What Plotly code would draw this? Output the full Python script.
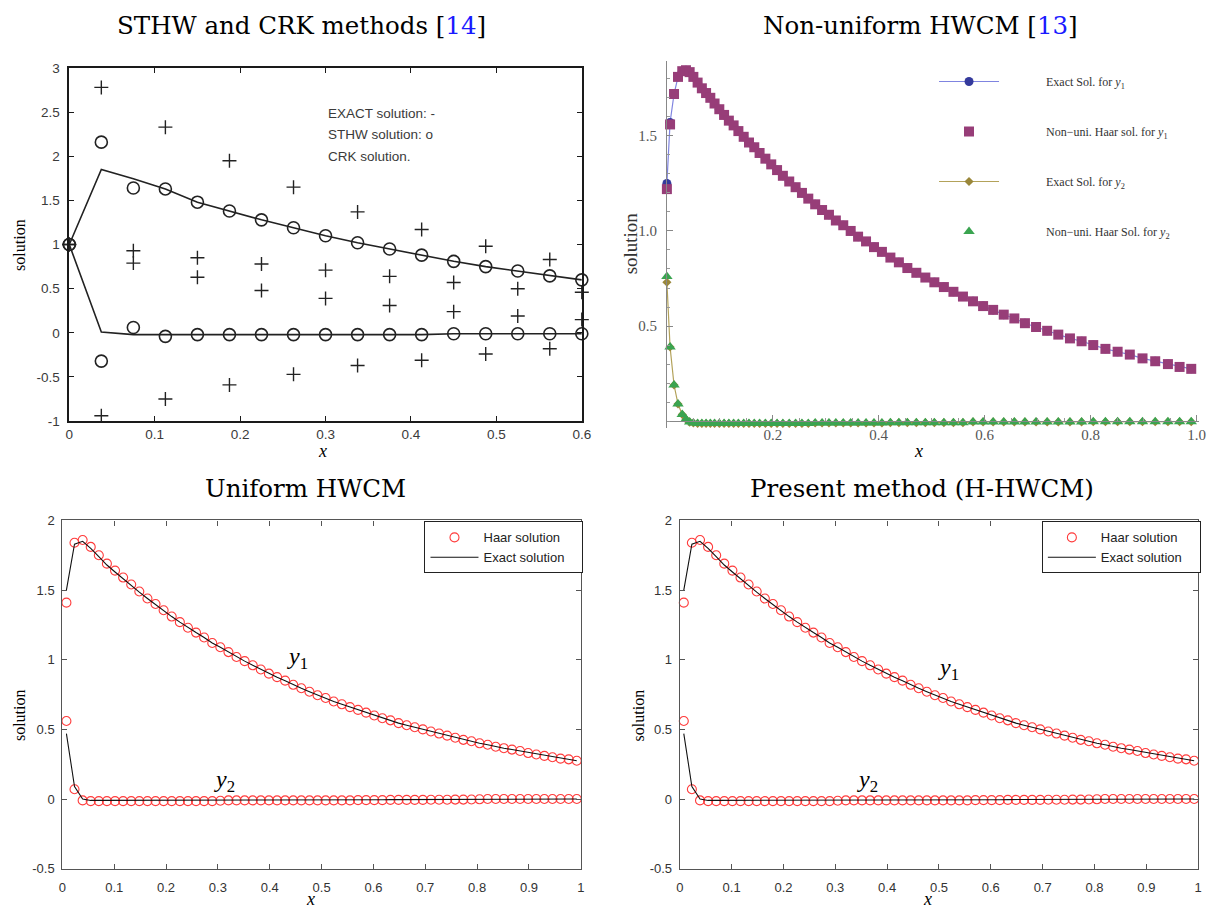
import plotly.graph_objects as go

W, H = 1225, 917

# ---------------- Panel 1 data (STHW and CRK methods) ----------------
p1_x = [0, 0.0375, 0.075, 0.1125, 0.15, 0.1875, 0.225, 0.2625, 0.3, 0.3375,
        0.375, 0.4125, 0.45, 0.4875, 0.525, 0.5625, 0.6]
p1_exact_y1 = [1.0, 1.85, 1.745, 1.63, 1.48, 1.38, 1.28, 1.19, 1.10, 1.02,
               0.95, 0.88, 0.81, 0.75, 0.70, 0.645, 0.60]
p1_exact_y2 = [1.0, 0.01, -0.02, -0.02, -0.02, -0.02, -0.02, -0.02, -0.02, -0.02,
               -0.02, -0.02, -0.01, -0.01, -0.01, -0.01, -0.01]
p1_sthw_y1 = [1.0, 2.16, 1.64, 1.63, 1.48, 1.38, 1.28, 1.19, 1.10, 1.02,
              0.95, 0.88, 0.81, 0.75, 0.70, 0.645, 0.60]
p1_sthw_y2 = [1.0, -0.32, 0.06, -0.04, -0.02, -0.02, -0.02, -0.02, -0.02, -0.02,
              -0.02, -0.02, -0.01, -0.01, -0.01, -0.01, -0.01]
p1_crk_a = [1.0, 2.78, 0.93, 2.33, 0.85, 1.95, 0.78, 1.65, 0.71, 1.37,
            0.64, 1.17, 0.57, 0.98, 0.50, 0.83, 0.46]
p1_crk_b = [1.0, -0.94, 0.79, -0.75, 0.63, -0.59, 0.48, -0.47, 0.39, -0.37,
            0.31, -0.31, 0.24, -0.24, 0.19, -0.18, 0.15]
p1_xticks = [0, 0.1, 0.2, 0.3, 0.4, 0.5, 0.6]
p1_xtext = ["0", "0.1", "0.2", "0.3", "0.4", "0.5", "0.6"]
p1_yticks = [-1, -0.5, 0, 0.5, 1, 1.5, 2, 2.5, 3]
p1_ytext = ["-1", "-0.5", "0", "0.5", "1", "1.5", "2", "2.5", "3"]

# ---------------- Panel 2 data (Non-uniform HWCM) ----------------
p2_x = [0, 0.006, 0.0135, 0.021, 0.029, 0.036, 0.043, 0.050, 0.058, 0.066,
        0.074, 0.082, 0.090, 0.099, 0.108, 0.117, 0.126, 0.135, 0.145, 0.155,
        0.165, 0.175, 0.186, 0.197, 0.208, 0.219, 0.231, 0.243, 0.255, 0.267,
        0.280, 0.293, 0.306, 0.319, 0.333, 0.347, 0.361, 0.376, 0.391, 0.406,
        0.422, 0.438, 0.454, 0.471, 0.488, 0.505, 0.523, 0.541, 0.559, 0.578,
        0.597, 0.616, 0.636, 0.656, 0.676, 0.697, 0.718, 0.739, 0.761, 0.783,
        0.805, 0.828, 0.851, 0.874, 0.898, 0.922, 0.946, 0.968, 0.990]
p2_exact_y1 = [1.25, 1.57, 1.72, 1.81, 1.84, 1.845, 1.835, 1.81, 1.78, 1.75,
               1.725, 1.70, 1.67, 1.64, 1.61, 1.58, 1.555, 1.525, 1.495, 1.465,
               1.44, 1.41, 1.38, 1.35, 1.32, 1.29, 1.26, 1.23, 1.20, 1.17,
               1.14, 1.11, 1.085, 1.055, 1.03, 1.00, 0.97, 0.945, 0.915, 0.89,
               0.86, 0.835, 0.805, 0.78, 0.755, 0.73, 0.705, 0.68, 0.655, 0.63,
               0.605, 0.585, 0.56, 0.54, 0.515, 0.495, 0.475, 0.455, 0.435, 0.42,
               0.40, 0.38, 0.365, 0.35, 0.33, 0.315, 0.30, 0.285, 0.275]
p2_haar_y1 = [1.22, 1.56, 1.72, 1.81, 1.84, 1.845, 1.835, 1.81, 1.78, 1.75,
              1.725, 1.70, 1.67, 1.64, 1.61, 1.58, 1.555, 1.525, 1.495, 1.465,
              1.44, 1.41, 1.38, 1.35, 1.32, 1.29, 1.26, 1.23, 1.20, 1.17,
              1.14, 1.11, 1.085, 1.055, 1.03, 1.00, 0.97, 0.945, 0.915, 0.89,
              0.86, 0.835, 0.805, 0.78, 0.755, 0.73, 0.705, 0.68, 0.655, 0.63,
              0.605, 0.585, 0.56, 0.54, 0.515, 0.495, 0.475, 0.455, 0.435, 0.42,
              0.40, 0.38, 0.365, 0.35, 0.33, 0.315, 0.30, 0.285, 0.275]
p2_exact_y2 = [0.73, 0.39, 0.19, 0.09, 0.035, 0.01, -0.005, -0.01, -0.012, -0.012,
               -0.012, -0.012, -0.012, -0.012, -0.012, -0.012, -0.012, -0.012, -0.012, -0.012,
               -0.012, -0.012, -0.012, -0.012, -0.012, -0.012, -0.012, -0.012, -0.012, -0.012,
               -0.01, -0.01, -0.01, -0.01, -0.01, -0.01, -0.01, -0.01, -0.01, -0.01,
               -0.008, -0.008, -0.008, -0.008, -0.008, -0.008, -0.008, -0.008, -0.008, -0.004,
               -0.004, -0.004, -0.004, -0.004, -0.004, -0.004, -0.004, -0.004, -0.004, -0.004,
               -0.003, -0.003, -0.003, -0.003, -0.003, -0.003, -0.003, -0.003, -0.003]
p2_haar_y2 = [0.76, 0.39, 0.19, 0.09, 0.035, 0.01, -0.005, -0.01, -0.012, -0.012,
              -0.012, -0.012, -0.012, -0.012, -0.012, -0.012, -0.012, -0.012, -0.012, -0.012,
              -0.012, -0.012, -0.012, -0.012, -0.012, -0.012, -0.012, -0.012, -0.012, -0.012,
              -0.01, -0.01, -0.01, -0.01, -0.01, -0.01, -0.01, -0.01, -0.01, -0.01,
              -0.008, -0.008, -0.008, -0.008, -0.008, -0.008, -0.008, -0.008, -0.008, -0.004,
              -0.004, -0.004, -0.004, -0.004, -0.004, -0.004, -0.004, -0.004, -0.004, -0.004,
              -0.003, -0.003, -0.003, -0.003, -0.003, -0.003, -0.003, -0.003, -0.003]
p2_xticks = [0.2, 0.4, 0.6, 0.8, 1.0]
p2_xtext = ["0.2", "0.4", "0.6", "0.8", "1.0"]
p2_yticks = [0.5, 1.0, 1.5]
p2_ytext = ["0.5", "1.0", "1.5"]

# ---------------- Panels 3 & 4 data (Uniform HWCM / H-HWCM) ----------------
p3_x = [0.0078, 0.0234, 0.0391, 0.0547, 0.0703, 0.0859, 0.1016, 0.1172, 0.1328, 0.1484,
        0.1641, 0.1797, 0.1953, 0.2109, 0.2266, 0.2422, 0.2578, 0.2734, 0.2891, 0.3047,
        0.3203, 0.3359, 0.3516, 0.3672, 0.3828, 0.3984, 0.4141, 0.4297, 0.4453, 0.4609,
        0.4766, 0.4922, 0.5078, 0.5234, 0.5391, 0.5547, 0.5703, 0.5859, 0.6016, 0.6172,
        0.6328, 0.6484, 0.6641, 0.6797, 0.6953, 0.7109, 0.7266, 0.7422, 0.7578, 0.7734,
        0.7891, 0.8047, 0.8203, 0.8359, 0.8516, 0.8672, 0.8828, 0.8984, 0.9141, 0.9297,
        0.9453, 0.9609, 0.9766, 0.9922]
p3_haar_y1 = [1.41, 1.84, 1.86, 1.81, 1.75, 1.69, 1.64, 1.59, 1.54, 1.49,
              1.44, 1.40, 1.355, 1.31, 1.27, 1.23, 1.195, 1.16, 1.12, 1.09,
              1.055, 1.02, 0.99, 0.96, 0.93, 0.90, 0.875, 0.85, 0.82, 0.795,
              0.77, 0.745, 0.725, 0.70, 0.68, 0.66, 0.64, 0.62, 0.60, 0.58,
              0.565, 0.545, 0.53, 0.515, 0.50, 0.485, 0.47, 0.455, 0.44, 0.425,
              0.415, 0.40, 0.39, 0.375, 0.365, 0.355, 0.345, 0.33, 0.32, 0.31,
              0.30, 0.29, 0.285, 0.275]
p3_exact_y1 = [1.50, 1.83, 1.85, 1.80, 1.74, 1.68, 1.63, 1.58, 1.53, 1.485,
               1.44, 1.395, 1.35, 1.31, 1.27, 1.23, 1.195, 1.16, 1.12, 1.09,
               1.055, 1.02, 0.99, 0.96, 0.93, 0.90, 0.875, 0.85, 0.82, 0.795,
               0.77, 0.745, 0.725, 0.70, 0.68, 0.66, 0.64, 0.62, 0.60, 0.58,
               0.565, 0.545, 0.53, 0.515, 0.50, 0.485, 0.47, 0.455, 0.44, 0.425,
               0.415, 0.40, 0.39, 0.375, 0.365, 0.355, 0.345, 0.33, 0.32, 0.31,
               0.30, 0.29, 0.285, 0.275]
p3_haar_y2 = [0.56, 0.07, -0.01, -0.015, -0.015, -0.015, -0.015, -0.015, -0.015, -0.015,
              -0.015, -0.015, -0.015, -0.015, -0.015, -0.015, -0.015, -0.015, -0.015, -0.012,
              -0.01, -0.01, -0.01, -0.01, -0.01, -0.01, -0.01, -0.01, -0.01, -0.01,
              -0.01, -0.01, -0.01, -0.01, -0.01, -0.01, -0.008, -0.008, -0.008, -0.008,
              -0.006, -0.006, -0.006, -0.006, -0.006, -0.005, -0.005, -0.005, -0.004, -0.004,
              -0.003, -0.002, 0.0, 0.0, 0.0, 0.0, 0.0, 0.0, 0.0, 0.0,
              0.0, 0.0, 0.0, 0.0]
p3_exact_y2 = [0.47, 0.09, 0.0, -0.01, -0.01, -0.01, -0.01, -0.01, -0.01, -0.01,
               -0.01, -0.01, -0.01, -0.01, -0.01, -0.01, -0.01, -0.01, -0.01, -0.01,
               -0.008, -0.008, -0.008, -0.008, -0.008, -0.008, -0.008, -0.008, -0.008, -0.008,
               -0.006, -0.006, -0.006, -0.006, -0.006, -0.006, -0.005, -0.005, -0.005, -0.005,
               -0.004, -0.004, -0.004, -0.004, -0.004, -0.003, -0.003, -0.003, -0.002, -0.002,
               -0.002, -0.001, 0.0, 0.0, 0.0, 0.0, 0.0, 0.0, 0.0, 0.0,
               0.0, 0.0, 0.0, 0.0]
p3_xticks = [0, 0.1, 0.2, 0.3, 0.4, 0.5, 0.6, 0.7, 0.8, 0.9, 1]
p3_xtext = ["0", "0.1", "0.2", "0.3", "0.4", "0.5", "0.6", "0.7", "0.8", "0.9", "1"]
p3_yticks = [-0.5, 0, 0.5, 1, 1.5, 2]
p3_ytext = ["-0.5", "0", "0.5", "1", "1.5", "2"]


def dx(a, b):
    return [a / W, b / W]


def dy(top, bottom):
    return [1 - bottom / H, 1 - top / H]


def px(x):
    return x / W


def py(y):
    return 1 - y / H


SERIF = "Liberation Serif"
TITLE_FONT = "DejaVu Serif"
SANS = "Liberation Sans, Arial"

fig = go.Figure()

# ---------- Panel 1 traces ----------
P1C = "#222222"
for ys in (p1_exact_y1, p1_exact_y2):
    fig.add_trace(go.Scatter(x=p1_x, y=ys, mode="lines", line=dict(color=P1C, width=1.6),
                             xaxis="x", yaxis="y", showlegend=False, cliponaxis=False))
for ys in (p1_sthw_y1, p1_sthw_y2):
    fig.add_trace(go.Scatter(x=p1_x, y=ys, mode="markers",
                             marker=dict(symbol="circle-open", size=12, color=P1C, line=dict(width=1.6)),
                             xaxis="x", yaxis="y", showlegend=False, cliponaxis=False))
for ys in (p1_crk_a, p1_crk_b):
    fig.add_trace(go.Scatter(x=p1_x, y=ys, mode="markers",
                             marker=dict(symbol="cross-thin-open", size=10, color=P1C, line=dict(width=1.4, color=P1C)),
                             xaxis="x", yaxis="y", showlegend=False, cliponaxis=False))

# ---------- Panel 2 traces ----------
SP = "\u2003\u2003\u2003\u2002"
fig.add_trace(go.Scatter(x=p2_x, y=p2_exact_y1, mode="lines+markers",
                         name=SP + "Exact Sol. for <i>y</i><sub>1</sub>",
                         line=dict(color="#7f84e0", width=1.2),
                         marker=dict(symbol="circle", size=9, color="#343a9c"),
                         xaxis="x2", yaxis="y2", legend="legend", legendgroup="a", cliponaxis=False))
fig.add_trace(go.Scatter(x=p2_x, y=p2_haar_y1, mode="markers",
                         name=SP + "Non\u2212uni. Haar sol. for <i>y</i><sub>1</sub>",
                         marker=dict(symbol="square", size=10, color="#973d78"),
                         xaxis="x2", yaxis="y2", legend="legend", legendgroup="b", cliponaxis=False))
fig.add_trace(go.Scatter(x=p2_x, y=p2_exact_y2, mode="lines+markers",
                         name=SP + "Exact Sol. for <i>y</i><sub>2</sub>",
                         line=dict(color="#b3a25a", width=1.2),
                         marker=dict(symbol="diamond", size=7, color="#9a873a"),
                         xaxis="x2", yaxis="y2", legend="legend", legendgroup="c", cliponaxis=False))
fig.add_trace(go.Scatter(x=p2_x, y=p2_haar_y2, mode="markers",
                         name=SP + "Non\u2212uni. Haar Sol. for <i>y</i><sub>2</sub>",
                         marker=dict(symbol="triangle-up", size=10, color="#3aa450"),
                         xaxis="x2", yaxis="y2", legend="legend", legendgroup="d", cliponaxis=False))

# ---------- Panels 3 & 4 traces ----------
RED = "#ff3b3b"
TRAIL = "\u2002\u2002"
for xa, ya, lg in (("x3", "y3", "legend2"), ("x4", "y4", "legend3")):
    fig.add_trace(go.Scatter(x=p3_x, y=p3_haar_y1, mode="markers", name="Haar solution" + TRAIL,
                             marker=dict(symbol="circle-open", size=9, color=RED, line=dict(width=1.1)),
                             xaxis=xa, yaxis=ya, legend=lg, showlegend=True, cliponaxis=False))
    fig.add_trace(go.Scatter(x=p3_x, y=p3_haar_y2, mode="markers", name="Haar solution",
                             marker=dict(symbol="circle-open", size=9, color=RED, line=dict(width=1.1)),
                             xaxis=xa, yaxis=ya, legend=lg, showlegend=False, cliponaxis=False))
    fig.add_trace(go.Scatter(x=p3_x, y=p3_exact_y1, mode="lines", name="Exact solution" + TRAIL,
                             line=dict(color="#111111", width=1.1),
                             xaxis=xa, yaxis=ya, legend=lg, showlegend=True, cliponaxis=False))
    fig.add_trace(go.Scatter(x=p3_x, y=p3_exact_y2, mode="lines", name="Exact solution",
                             line=dict(color="#111111", width=1.1),
                             xaxis=xa, yaxis=ya, legend=lg, showlegend=False, cliponaxis=False))


def matlab_axis(domain, rng, tickvals, ticktext, anchor, lc="#555555", lw=1.2, fc="#333333", fs=13, standoff=0):
    return dict(domain=domain, range=rng, tickmode="array", tickvals=tickvals, ticktext=ticktext,
                ticks="inside", ticklen=5, tickcolor=lc, tickwidth=1, showline=True, linecolor=lc,
                linewidth=lw, mirror="ticks", showgrid=False, zeroline=False, anchor=anchor,
                ticklabelstandoff=standoff,
                tickfont=dict(family=SANS, size=fs, color=fc), fixedrange=True)


layout = dict(
    width=W, height=H, margin=dict(l=0, r=0, t=0, b=0),
    paper_bgcolor="white", plot_bgcolor="white",
    xaxis=matlab_axis(dx(66, 584), [0, 0.6], p1_xticks, p1_xtext, "y", lc="#1a1a1a", lw=1.6, fc="#3a3a3a", fs=13.5),
    yaxis=matlab_axis(dy(62, 421), [-1, 3], p1_yticks, p1_ytext, "x", lc="#1a1a1a", lw=1.6, fc="#3a3a3a", fs=13.5,
                      standoff=5),
    xaxis2=dict(domain=dx(670, 1208), range=[0, 1.005], tickmode="array", tickvals=p2_xticks, ticktext=p2_xtext,
                ticks="inside", ticklen=6, tickcolor="#888888", showline=True, linecolor="#888888", linewidth=1,
                showgrid=False, zeroline=False, anchor="free", position=py(421),
                minor=dict(ticks="inside", ticklen=3, dtick=0.05, tick0=0, tickcolor="#999999"),
                tickfont=dict(family=SERIF, size=15, color="#555555")),
    yaxis2=dict(domain=dy(55, 428), range=[-0.036, 1.893], tickmode="array", tickvals=p2_yticks, ticktext=p2_ytext,
                ticks="inside", ticklen=6, tickcolor="#888888", showline=True, linecolor="#888888", linewidth=1,
                showgrid=False, zeroline=False, anchor="x2", ticklabelstandoff=6,
                minor=dict(ticks="inside", ticklen=3, dtick=0.1, tick0=0, tickcolor="#999999"),
                tickfont=dict(family=SERIF, size=15, color="#555555")),
    xaxis3=matlab_axis(dx(59, 583), [0, 1], p3_xticks, p3_xtext, "y3", standoff=7),
    yaxis3=matlab_axis(dy(522, 876), [-0.5, 2], p3_yticks, p3_ytext, "x3", standoff=4),
    xaxis4=matlab_axis(dx(683, 1207), [0, 1], p3_xticks, p3_xtext, "y4", standoff=7),
    yaxis4=matlab_axis(dy(522, 876), [-0.5, 2], p3_yticks, p3_ytext, "x4", standoff=4),
    legend=dict(x=px(940), y=py(61), xanchor="left", yanchor="top", bgcolor="rgba(0,0,0,0)",
                font=dict(family=SERIF, size=12, color="#333333"), itemwidth=60,
                tracegroupgap=31, traceorder="grouped"),
    legend2=dict(x=px(425), y=py(523), xanchor="left", yanchor="top", bgcolor="white",
                 bordercolor="#222222", borderwidth=1, font=dict(family=SANS, size=13, color="#222222"),
                 itemwidth=48, tracegroupgap=0),
    legend3=dict(x=px(1049), y=py(523), xanchor="left", yanchor="top", bgcolor="white",
                 bordercolor="#222222", borderwidth=1, font=dict(family=SANS, size=13, color="#222222"),
                 itemwidth=48, tracegroupgap=0),
)
fig.update_layout(**layout)

ann = []


def add_text(text, x, y, size, family=SERIF, color="black", angle=0, xanchor="center"):
    ann.append(dict(text=text, x=px(x), y=py(y), xref="paper", yref="paper", showarrow=False,
                    xanchor=xanchor, yanchor="middle", textangle=angle,
                    font=dict(family=family, size=size, color=color)))


BLUE = "#1a1aff"
add_text("STHW and CRK methods [<span style='color:%s'>14</span>]" % BLUE, 301, 19, 24.5, family=TITLE_FONT)
add_text("Non-uniform HWCM [<span style='color:%s'>13</span>]" % BLUE, 926, 19, 24.5, family=TITLE_FONT)
add_text("Uniform HWCM", 305, 490, 24.5, family=TITLE_FONT)
add_text("Present method (H-HWCM)", 928, 490, 24.5, family=TITLE_FONT)

add_text("solution", 15, 242, 16, angle=-90)
add_text("<i>x</i>", 322, 451, 18)
add_text("solution", 633, 240, 19, angle=-90, color="#333333")
add_text("<i>x</i>", 924, 451, 18)
add_text("solution", 15, 720, 16, angle=-90)
add_text("<i>x</i>", 310, 907, 18)
add_text("solution", 641, 720, 16, angle=-90)
add_text("<i>x</i>", 933, 907, 18)

add_text("EXACT solution: -", 325, 108, 13.5, family=SANS, color="#3a3a3a", xanchor="left")
add_text("STHW solution: o", 325, 130, 13.5, family=SANS, color="#3a3a3a", xanchor="left")
add_text("CRK solution.", 325, 152, 13.5, family=SANS, color="#3a3a3a", xanchor="left")

add_text("<i>y</i><sub>1</sub>", 297, 662, 24)
add_text("<i>y</i><sub>2</sub>", 223, 787, 24)
add_text("<i>y</i><sub>1</sub>", 955, 673, 24)
add_text("<i>y</i><sub>2</sub>", 873, 787, 24)

fig.update_layout(annotations=ann)

fig.write_html("out.html")
